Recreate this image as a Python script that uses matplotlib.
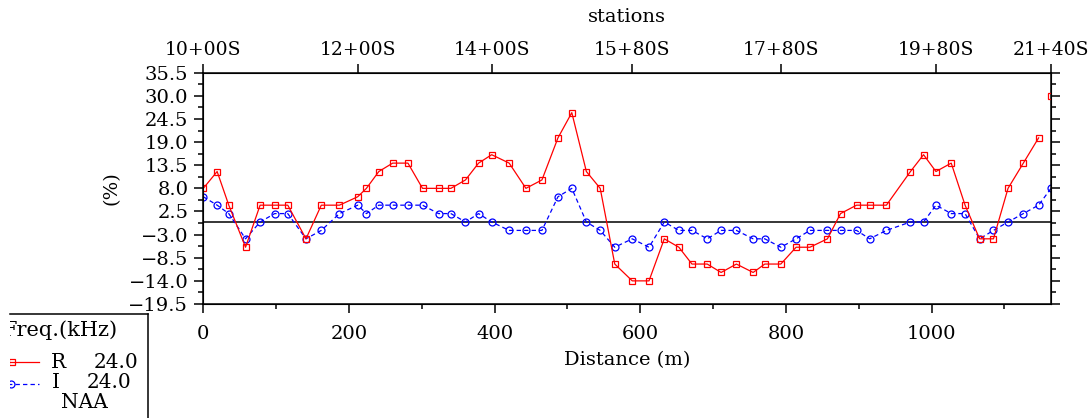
import numpy as np
import matplotlib.pyplot as plt
from matplotlib.ticker import MultipleLocator, FixedLocator

plt.rcParams['font.family'] = 'DejaVu Serif'

# distance along the line (m) for each reading station
distance = np.array([0, 19, 35, 58, 78, 98, 116, 141, 162, 187,
                     212, 224, 241, 260, 281, 301, 323, 340, 360, 378,
                     396, 420, 443, 465, 487, 506, 526, 545, 565, 589,
                     612, 633, 653, 671, 692, 711, 732, 755, 771, 793,
                     814, 833, 857, 875, 897, 915, 938, 971, 989, 1006,
                     1027, 1046, 1066, 1085, 1105, 1126, 1147, 1164])

# VLF in-phase (R) and quadrature (I), percent
real_pct = np.array([8, 12, 4, -6, 4, 4, 4, -4, 4, 4,
                     6, 8, 12, 14, 14, 8, 8, 8, 10, 14,
                     16, 14, 8, 10, 20, 26, 12, 8, -10, -14,
                     -14, -4, -6, -10, -10, -12, -10, -12, -10, -10,
                     -6, -6, -4, 2, 4, 4, 4, 12, 16, 12,
                     14, 4, -4, -4, 8, 14, 20, 30])
imag_pct = np.array([6, 4, 2, -4, 0, 2, 2, -4, -2, 2,
                     4, 2, 4, 4, 4, 4, 2, 2, 0, 2,
                     0, -2, -2, -2, 6, 8, 0, -2, -6, -4,
                     -6, 0, -2, -2, -4, -2, -2, -4, -4, -6,
                     -4, -2, -2, -2, -2, -4, -2, 0, 0, 4,
                     2, 2, -4, -2, 0, 2, 4, 8])

station_idx = [0, 10, 20, 29, 39, 49, 57]
station_labels = ['10+00S', '12+00S', '14+00S', '15+80S', '17+80S', '19+80S', '21+40S']

freq_khz = 24.0
transmitter = 'NAA'

W, H = 1089, 418
fig = plt.figure(figsize=(W / 100, H / 100), dpi=100)
ax = fig.add_axes([203.3 / W, 1 - 304 / H, (1051 - 203.3) / W, (304 - 72.7) / H])

ax.axhline(0, color='k', lw=1.1, zorder=1)
ax.plot(distance, imag_pct, color='#0000ff', lw=0.9, ls=(0, (3.5, 2.5)),
        marker='o', ms=5, mfc='none', mew=0.9, zorder=2)
ax.plot(distance[:-1], real_pct[:-1], color='#ff0000', lw=0.9, zorder=3)
ax.plot(distance, real_pct, color='#ff0000', ls='none',
        marker='s', ms=5, mfc='none', mew=0.9, zorder=3)

ax.set_xlim(0, distance[-1])
ax.set_ylim(-19.5, 35.5)
yt = np.arange(-19.5, 35.6, 5.5)
ax.yaxis.set_major_locator(FixedLocator(yt))
ax.yaxis.set_minor_locator(FixedLocator(yt[:-1] + 2.75))
ax.set_yticklabels([('%.1f' % v).replace('-', '\u2212') for v in yt])
ax.xaxis.set_major_locator(MultipleLocator(200))
ax.xaxis.set_minor_locator(MultipleLocator(100))

for s in ax.spines.values():
    s.set_linewidth(1.1)
ax.tick_params(axis='y', which='both', direction='out', left=True, right=True,
               labelsize=14, pad=4, width=1.1)
ax.tick_params(axis='x', which='both', direction='out', top=False,
               labelsize=14, pad=8, width=1.1)
ax.tick_params(which='major', length=6.8)
ax.tick_params(which='minor', length=3.6)
ax.set_xlabel('Distance (m)', fontsize=14, labelpad=6)
ax.set_ylabel('(%)', fontsize=14, labelpad=6)

ax_top = ax.twiny()
ax_top.set_xlim(ax.get_xlim())
ax_top.set_xticks(distance[station_idx])
ax_top.set_xticklabels(station_labels)
ax_top.tick_params(axis='x', direction='out', length=6.8, width=1.1, labelsize=13.5, pad=3)
ax_top.set_xlabel('stations', fontsize=14, labelpad=14)

# legend panel, partly cut off at the left edge
lg = fig.add_axes([10 / W, 0, (148.3 - 10) / W, (418 - 314.3) / H])
lg.set_xlim(10, 148.3)
lg.set_ylim(418, 314.3)
lg.set_xticks([])
lg.set_yticks([])
lg.spines['left'].set_visible(False)
lg.spines['bottom'].set_visible(False)
lg.spines['top'].set_linewidth(1.1)
lg.spines['right'].set_linewidth(1.1)
title = lg.text(118, 330, 'Freq.(kHz)', ha='right', va='center', fontsize=15)
title.set_clip_box(lg.bbox)
title.set_clip_on(True)
lg.plot([0, 39], [362, 362], color='#ff0000', lw=0.9)
lg.plot([12], [362], color='#ff0000', marker='s', ms=5, mfc='none', mew=0.9)
lg.plot([0, 39], [384, 384], color='#0000ff', lw=0.9, ls=(0, (3.5, 2.5)))
lg.plot([11], [384], color='#0000ff', marker='o', ms=5, mfc='none', mew=0.9)
lg.text(51, 362, 'R', ha='left', va='center', fontsize=14.5)
lg.text(138, 362, '%.1f' % freq_khz, ha='right', va='center', fontsize=14.5)
lg.text(52, 382, 'I', ha='left', va='center', fontsize=14.5)
lg.text(131, 382, '%.1f' % freq_khz, ha='right', va='center', fontsize=14.5)
lg.text(84, 402, transmitter, ha='center', va='center', fontsize=14.5)

fig.savefig('out.png', dpi=100)
